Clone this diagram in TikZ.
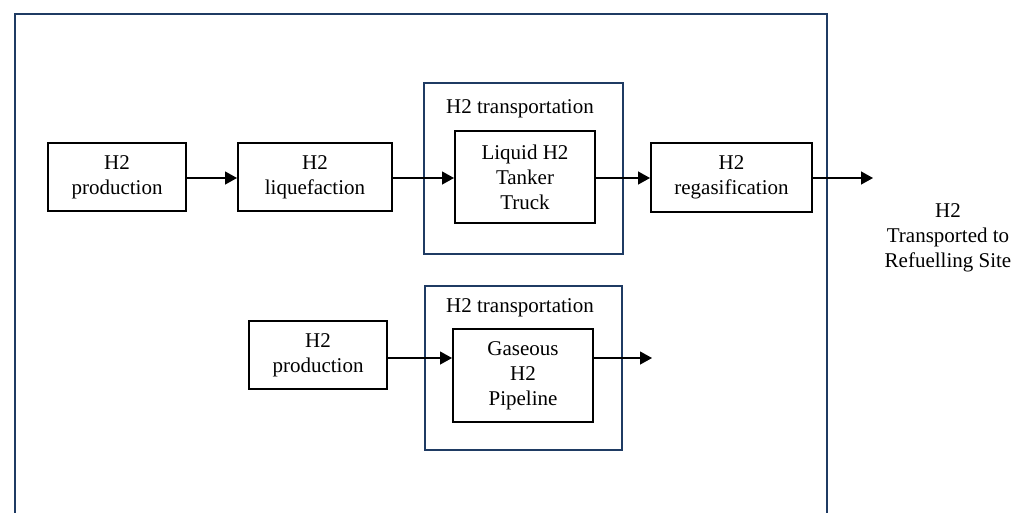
\documentclass[tikz,border=0pt]{standalone}
\usepackage{fontspec}
\setmainfont{Liberation Serif}
\usetikzlibrary{arrows.meta,positioning}
\definecolor{frameblue}{HTML}{1F3B63}
\tikzset{
  procbox/.style={draw=black,line width=2pt,align=center,inner sep=0pt,font=\fontsize{21}{25}\selectfont},
  groupbox/.style={draw=frameblue,line width=2pt},
  flow/.style={line width=1.3pt,-{Triangle[length=12pt,width=13pt]}},
  lbl/.style={font=\fontsize{21}{25}\selectfont,align=center,inner sep=0pt},
}
\begin{document}
\begin{tikzpicture}[x=1pt,y=-1pt]
\useasboundingbox (0,0) rectangle (1032,512);
\clip (0,0) rectangle (1032,512);
\fill[white] (0,0) rectangle (1032,512);
% outer frame
\draw[groupbox] (15,14) rectangle (827,530);
% group boxes
\draw[groupbox] (424,83) rectangle (623,254);
\draw[groupbox] (425,286) rectangle (622,450);
\node[lbl] (t1) at (520,109) {H2 transportation};
\node[lbl] (t2) at (520,308) {H2 transportation};
% top row
\node[procbox,minimum width=138pt,minimum height=68pt] (p1) at (117,177) {H2\\production};
\node[procbox,minimum width=154pt,minimum height=68pt] (lq) at (315,177) {H2\\liquefaction};
\node[procbox,minimum width=140pt,minimum height=92pt] (tr) at (525,177) {Liquid H2\\Tanker\\Truck};
\node[procbox,minimum width=161pt,minimum height=69pt] (rg) at (731.5,177.5) {H2\\regasification};
\coordinate (e1) at (873,178);
\node[lbl] (dest) at (948,238) {H2\\Transported to\\Refuelling Site};
\draw[flow] (p1.east |- 0,178) -- (lq.west |- 0,178);
\draw[flow] (lq.east |- 0,178) -- (tr.west |- 0,178);
\draw[flow] (tr.east |- 0,178) -- (rg.west |- 0,178);
\draw[flow] (rg.east |- 0,178) -- (e1);
% bottom row
\node[procbox,minimum width=138pt,minimum height=68pt] (p2) at (318,355) {H2\\production};
\node[procbox,minimum width=140pt,minimum height=93pt] (pp) at (523,375.5) {Gaseous\\H2\\Pipeline};
\coordinate (e2) at (652,358);
\draw[flow] (p2.east |- 0,358) -- (pp.west |- 0,358);
\draw[flow] (pp.east |- 0,358) -- (e2);
\end{tikzpicture}
\end{document}
